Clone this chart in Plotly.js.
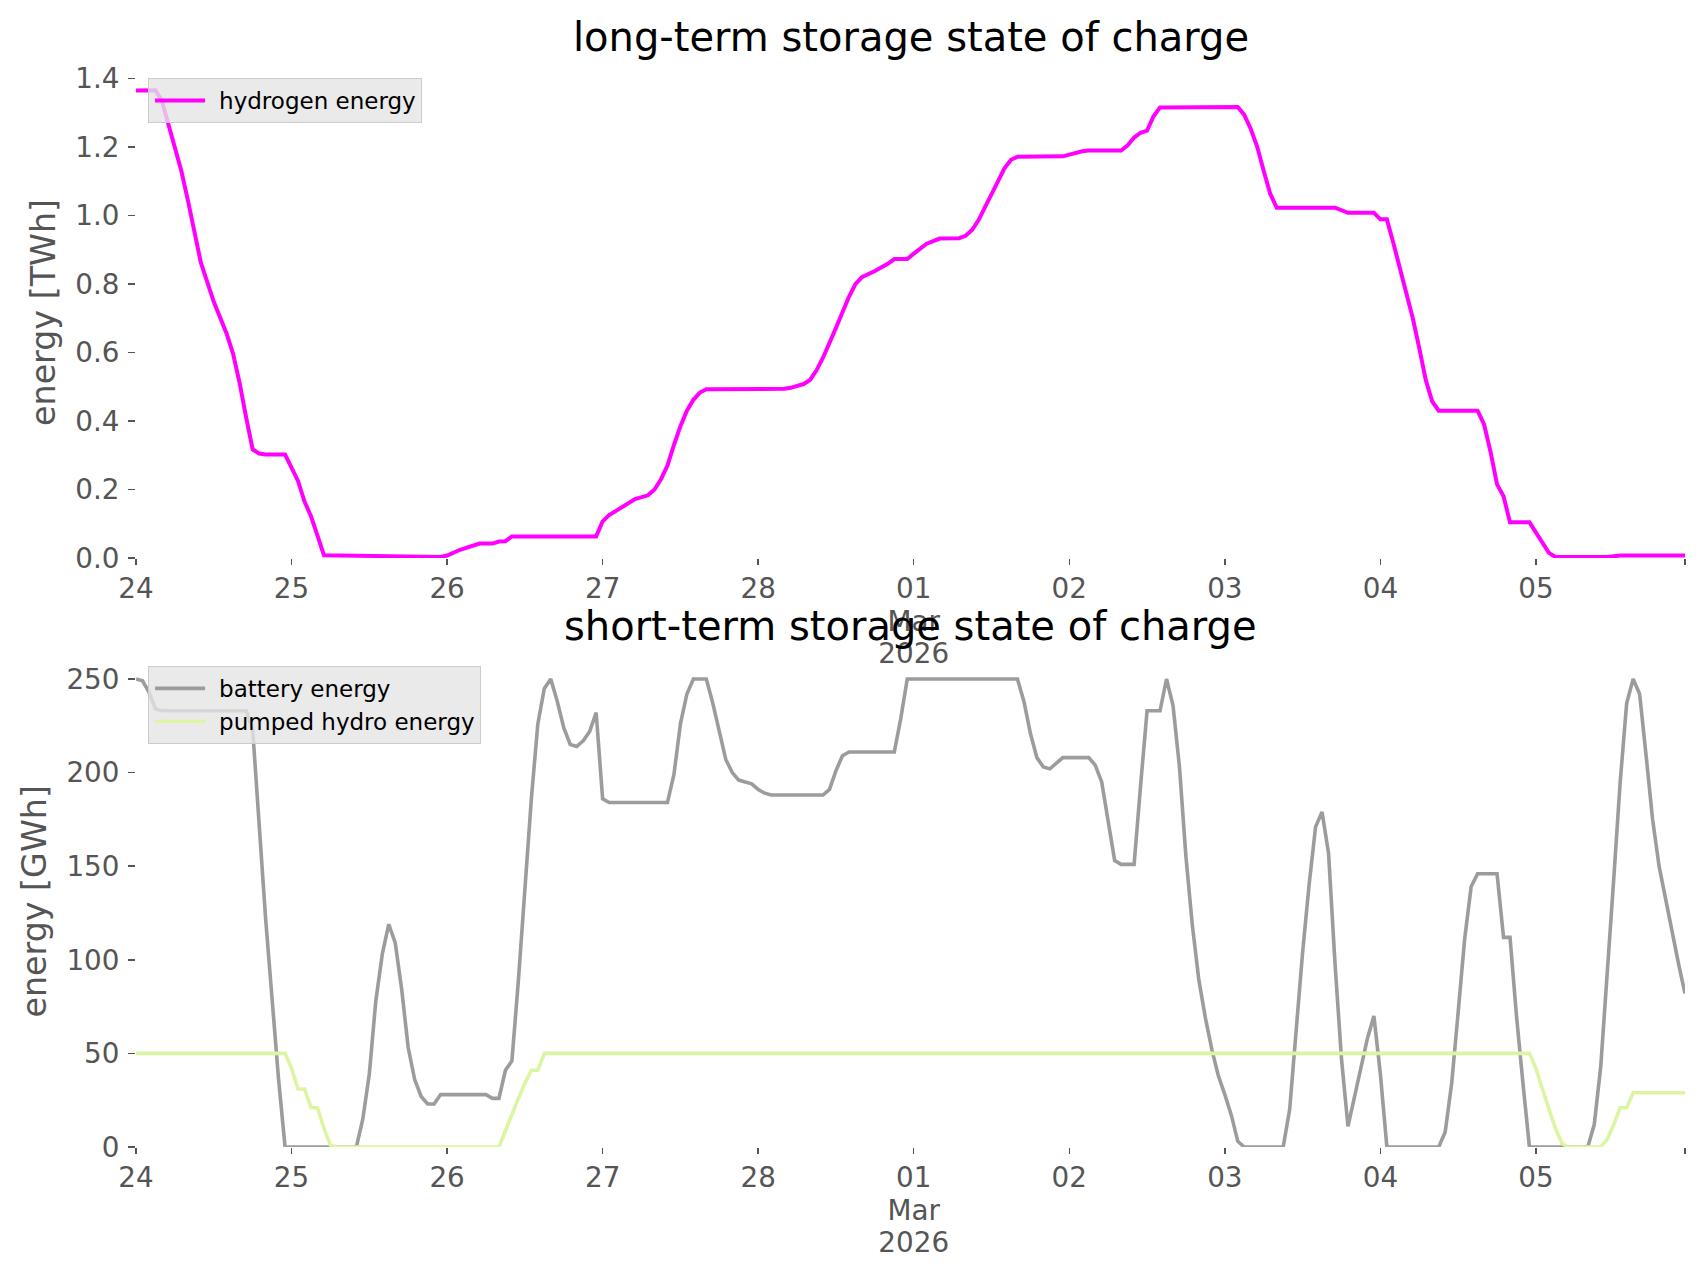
<!DOCTYPE html>
<html>
<head>
<meta charset="utf-8">
<script src="https://cdn.plot.ly/plotly-3.0.1.min.js"></script>
<style>html,body{margin:0;padding:0;background:#fff;}#chart{width:1706px;height:1277px;}</style>
</head>
<body>
<div id="chart"></div>
<script>
// ---- data (hours after 2026-02-24 00:00) ----
const startTime = '2026-02-24T00:00:00Z';

const hydrogenHours = [0,3,4,6,7,8,9,10,12,14,15,16,17,18,19,20,23,25,26,27,28,29,47,48,50,52,53,55,56,57,58,71,72,73,75,77,79,80,81,82,83,84,85,86,87,88,100,101,103,104,105,106,108,110,111,112,114,116,117,119,120,122,124,127,128,129,130,132,133,134,135,136,143,144,146,147,152,153,154,155,156,157,158,170,171,172,173,174,175,176,185,187,191,192,193,194,196,197,198,199,200,201,207,208,209,210,211,212,215,216,217,218,219,227,229,239];
const hydrogenTWh = [1.365,1.366,1.335,1.205,1.13,1.045,0.95,0.863,0.748,0.654,0.595,0.51,0.41,0.317,0.305,0.302,0.302,0.225,0.165,0.122,0.065,0.008,0.003,0.007,0.024,0.038,0.042,0.042,0.048,0.049,0.063,0.063,0.107,0.125,0.15,0.172,0.183,0.2,0.23,0.27,0.33,0.385,0.43,0.462,0.483,0.493,0.494,0.497,0.508,0.52,0.548,0.585,0.672,0.763,0.8,0.82,0.838,0.859,0.873,0.873,0.889,0.918,0.933,0.934,0.941,0.958,0.987,1.065,1.105,1.138,1.163,1.172,1.173,1.179,1.188,1.19,1.19,1.205,1.228,1.242,1.248,1.29,1.316,1.317,1.294,1.253,1.201,1.13,1.064,1.023,1.023,1.008,1.008,0.989,0.989,0.92,0.777,0.7,0.613,0.52,0.457,0.43,0.43,0.39,0.31,0.215,0.18,0.104,0.104,0.075,0.045,0.015,0.003,0.003,0.007,0.007];

const batteryHours = [0,1,2,3,4,17,18,19,20,21,22,23,34,35,36,37,38,39,40,41,42,43,44,45,46,47,54,55,56,57,58,59,60,61,62,63,64,65,66,67,68,69,70,71,72,73,82,83,84,85,86,88,89,90,91,92,93,94,95,96,97,98,106,107,108,109,110,117,118,119,136,137,138,139,140,141,142,143,147,148,149,150,151,152,154,155,156,158,159,160,161,162,163,164,165,166,167,168,169,170,171,177,178,179,180,181,182,183,184,185,186,187,188,189,190,191,192,193,201,202,203,204,205,206,207,210,211,212,213,214,215,224,225,226,227,228,229,230,231,232,233,234,235,236,237,238,239];
const batteryGWh = [250,249,243,234,233,233,223,172,122,79,36,0,0,15,39,78,103,119,109,84,53,36,27,23,23,28,28,26,26,41,46,89,140,186,226,245,250,238,224,215,214,217,222,232,186,184,184,199,226,242,250,250,237,221,207,200,196,195,194,191,189,188,188,191,201,209,211,211,229,250,250,238,221,208,203,202,205,208,208,204,195,174,153,151,151,193,233,233,250,236,203,155,118,89,69,52,38,28,17,3,0,0,20,62,104,140,171,179,157,98,47,11,27,43,58,70,39,0,0,8,34,72,111,139,146,146,112,112,70,34,0,0,12,43,91,143,195,237,250,242,209,175,150,132,115,98,82];

const pumpedHours = [0,23,24,25,26,27,28,29,30,31,56,57,58,59,60,61,62,63,215,216,217,218,219,220,221,226,227,228,229,230,231,239];
const pumpedGWh = [50,50,42,31,31,21,21,10,1,0,0,9,18,26,34,41,41,50,50,42,31,20,10,2,0,0,4,12,21,21,29,29];

const tickHours = [0,24,48,72,96,120,144,168,192,216,239];
const tickLabels = ['24','25','26','27','28','01<br>Mar<br>2026','02','03','04','05',''];

const h2Ticks = [0,0.2,0.4,0.6,0.8,1.0,1.2,1.4];
const h2TickLabels = ['0.0','0.2','0.4','0.6','0.8','1.0','1.2','1.4'];
const storeTicks = [0,50,100,150,200,250];

// ---- helpers ----
const t0 = Date.parse(startTime);
function toDate(h){
  return new Date(t0 + h*3600000).toISOString().slice(0,19).replace('T',' ');
}
const dates = a => a.map(toDate);

const FONT = 'DejaVu Sans';
const GREY = '#555555';

const traces = [
  {x:dates(hydrogenHours), y:hydrogenTWh, type:'scatter', mode:'lines', name:'hydrogen energy',
   line:{color:'#ff00ff', width:4}, xaxis:'x', yaxis:'y', legend:'legend'},
  {x:dates(batteryHours), y:batteryGWh, type:'scatter', mode:'lines', name:'battery energy',
   line:{color:'#9c9c9c', width:3.6}, xaxis:'x2', yaxis:'y2', legend:'legend2'},
  {x:dates(pumpedHours), y:pumpedGWh, type:'scatter', mode:'lines', name:'pumped hydro energy',
   line:{color:'#dbf5a3', width:3.6}, xaxis:'x2', yaxis:'y2', legend:'legend2'}
];

function xAxis(anchor){
  return {
    type:'date', anchor:anchor, domain:[0,1],
    range:[toDate(0), toDate(239)],
    tickmode:'array', tickvals:dates(tickHours), ticktext:tickLabels,
    ticks:'outside', ticklen:6, tickwidth:1.5, tickcolor:GREY,
    showgrid:false, zeroline:false, showline:false,
    tickfont:{family:FONT, size:27.8, color:GREY}
  };
}
function yAxis(anchor, domain, range, tv, tt, title){
  return {
    anchor:anchor, domain:domain, range:range,
    tickmode:'array', tickvals:tv, ticktext:tt,
    ticks:'outside', ticklen:7, tickwidth:1.5, tickcolor:GREY,
    ticklabelstandoff:3,
    showgrid:false, zeroline:false, showline:false,
    tickfont:{family:FONT, size:27.8, color:GREY},
    title:{text:title, font:{family:FONT, size:33.3, color:GREY}, standoff:9}
  };
}
const legendStyle = (y) => ({
  x:0.0078, y:y, xanchor:'left', yanchor:'top',
  bgcolor:'rgba(229,229,229,0.8)', bordercolor:'#cccccc', borderwidth:1,
  font:{family:FONT, size:23, color:'#000000'},
  itemwidth:60,
  tracegroupgap:0
});

const layout = {
  width:1706, height:1277,
  margin:{l:136, r:21, t:67, b:130},
  paper_bgcolor:'#ffffff', plot_bgcolor:'#ffffff',
  font:{family:FONT, color:GREY},
  showlegend:true,
  xaxis:xAxis('y'),
  yaxis:yAxis('x', [0.5454,1], [0,1.434], h2Ticks, h2TickLabels, 'energy [TWh]'),
  xaxis2:xAxis('y2'),
  yaxis2:yAxis('x2', [0,0.455], [0,262.5], storeTicks, storeTicks.map(String), 'energy [GWh]'),
  legend:legendStyle(0.9898),
  legend2:legendStyle(0.4454),
  annotations:[
    {text:'long-term storage state of charge', xref:'paper', yref:'paper', x:0.5, y:1.0278,
     xanchor:'center', yanchor:'middle', showarrow:false, font:{family:FONT, size:40, color:'#000000'}},
    {text:'short-term storage state of charge', xref:'paper', yref:'paper', x:0.5, y:0.482,
     xanchor:'center', yanchor:'middle', showarrow:false, font:{family:FONT, size:40, color:'#000000'}}
  ]
};

Plotly.newPlot('chart', traces, layout, {displayModeBar:false, staticPlot:true}).then(function(){
  // lengthen legend line samples to match the reference legend handles
  document.querySelectorAll('.legendlines path').forEach(function(p){
    p.setAttribute('d', 'M6,0h50');
  });
  // tighten the line spacing of the multi-line date tick labels (both x axes)
  document.querySelectorAll('.xtick text tspan.line, .x2tick text tspan.line').forEach(function(t){
    var dy = t.getAttribute('dy');
    if (dy && /em$/.test(dy)) {
      var v = parseFloat(dy);
      if (v > 0) t.setAttribute('dy', (v * 0.9).toFixed(3) + 'em');
    }
  });
});
</script>
</body>
</html>
